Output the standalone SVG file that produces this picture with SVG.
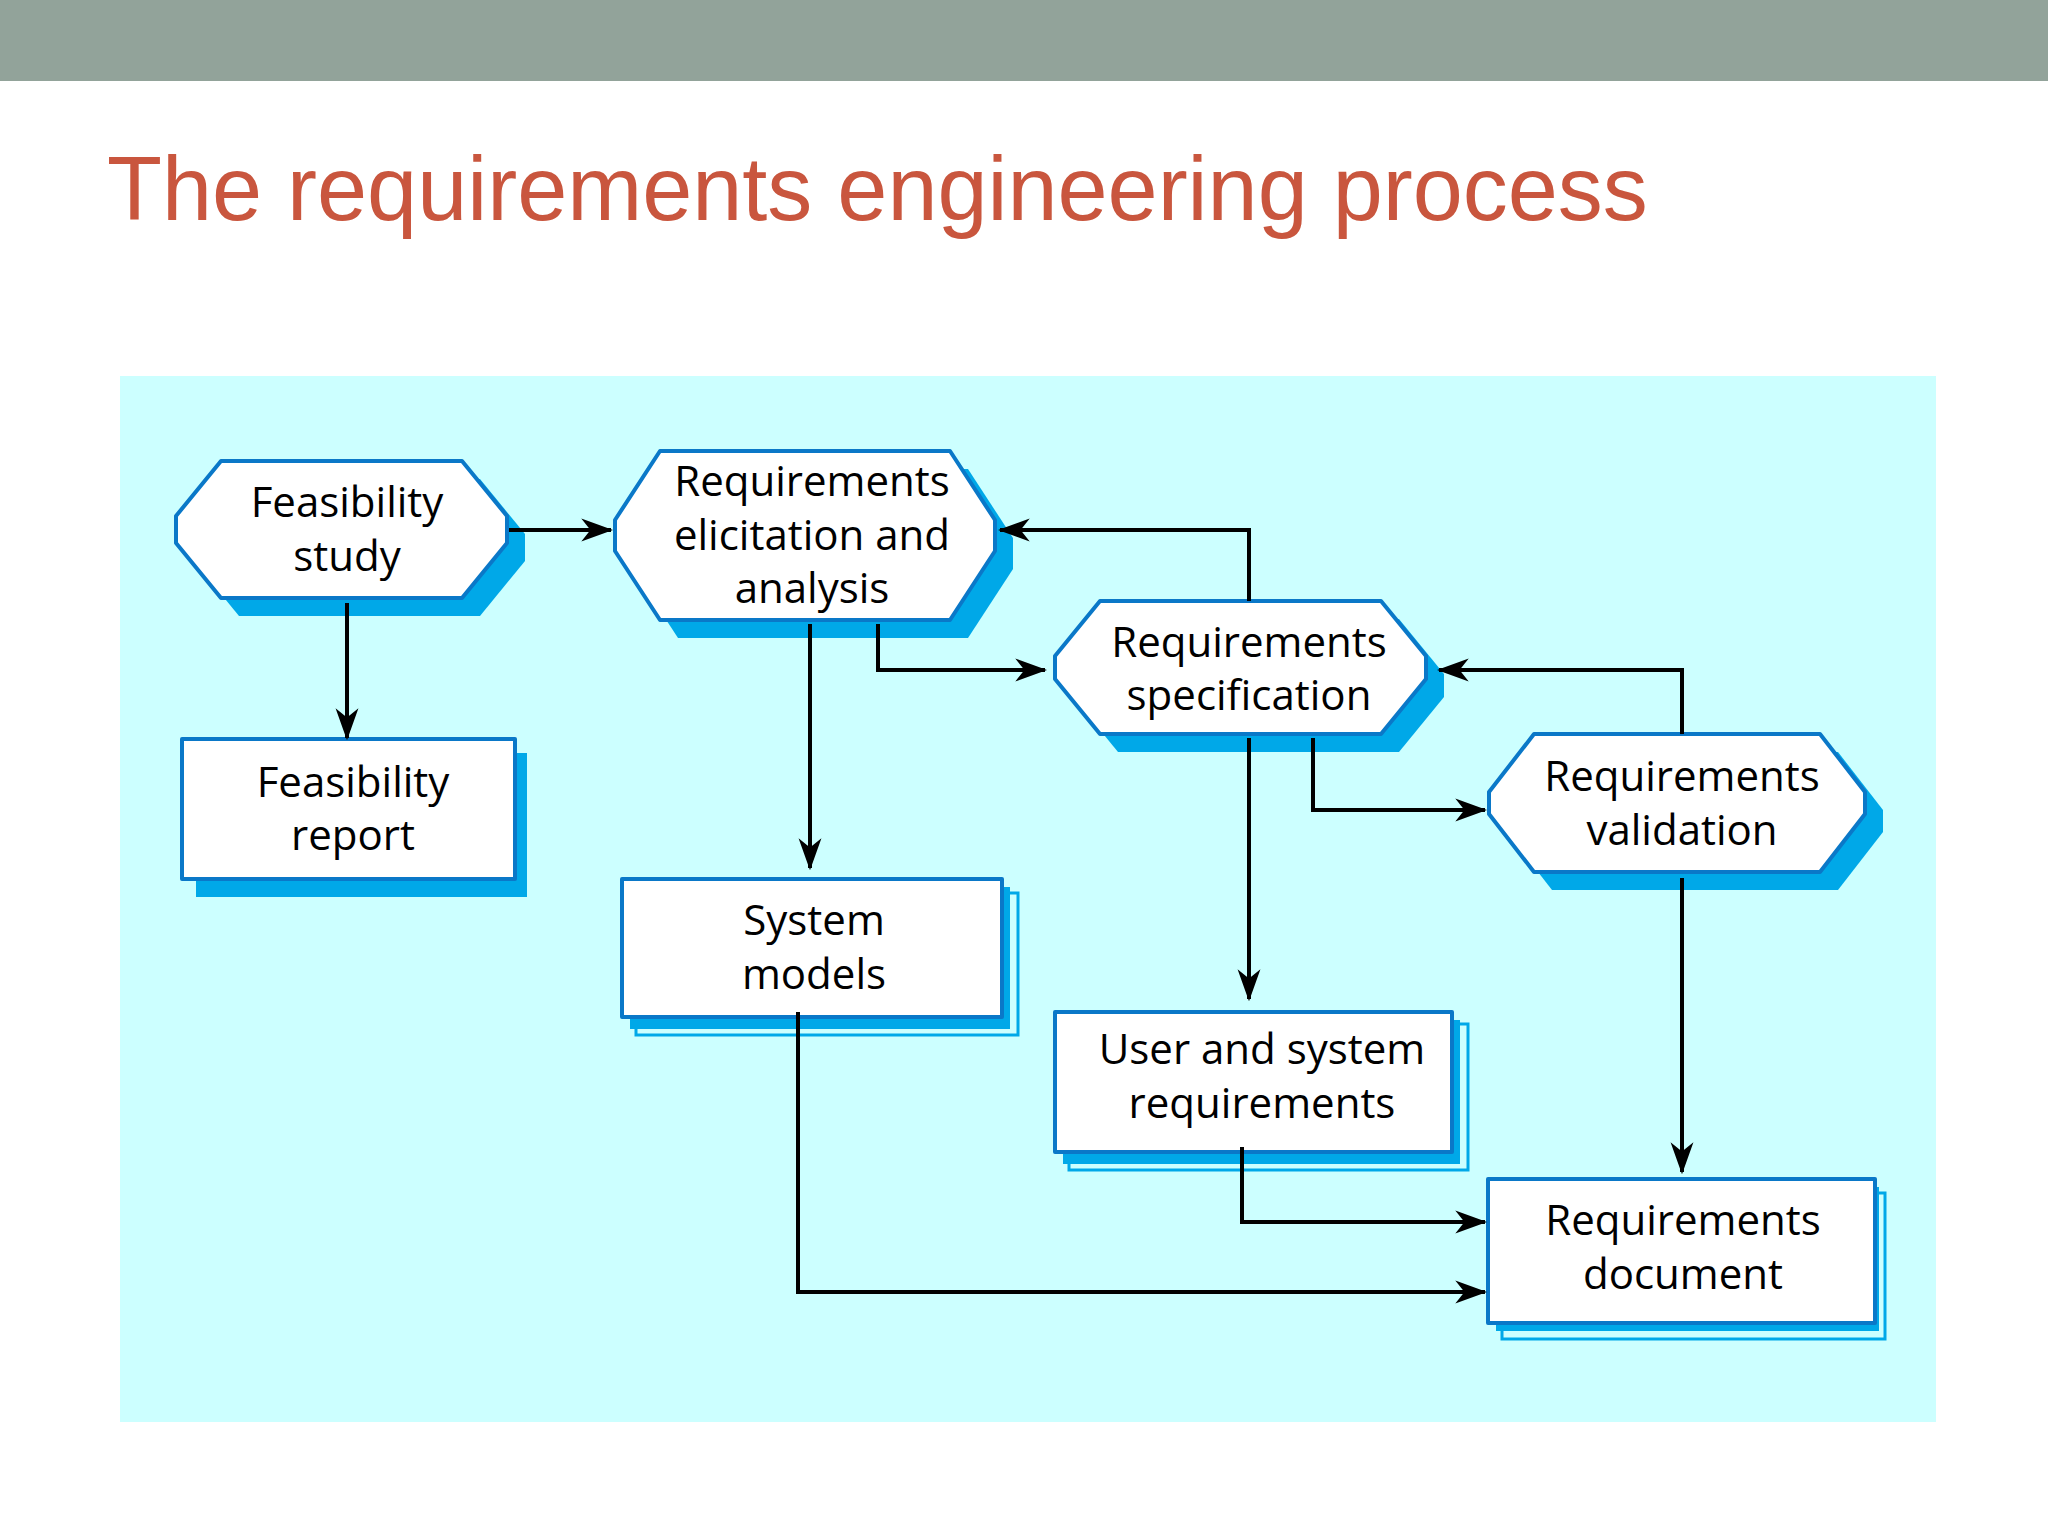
<svg xmlns="http://www.w3.org/2000/svg" width="2048" height="1537" viewBox="0 0 2048 1537">
<style>
.t{font-family:"Open Sans","DejaVu Sans",sans-serif;font-size:42px;fill:#000;text-anchor:middle;dominant-baseline:central}
.sh{fill:#00A8E8}
.nd{fill:#fff;stroke:#0A78C8;stroke-width:4;stroke-linejoin:round}
.ol{fill:none;stroke:#00A8E8;stroke-width:3}
.c{fill:none;stroke:#000;stroke-width:4;marker-end:url(#a)}
</style>
<defs>
<marker id="a" viewBox="0 0 14 10" refX="13" refY="5" markerWidth="8" markerHeight="6" markerUnits="strokeWidth" orient="auto">
<path d="M0,0 L14,5 L0,10 L4,5 Z" fill="#000"/>
</marker>
</defs>
<rect x="0" y="0" width="2048" height="81" fill="#92A39A"/>
<text x="107" y="220" font-family="Liberation Sans, Arial, sans-serif" font-size="90" fill="#C9563E">The requirements engineering process</text>
<rect x="120" y="376" width="1816" height="1046" fill="#CCFFFF"/>

<g id="feasibility-study">
<path class="sh" transform="translate(18,18)" d="M221,461 H462 L507,516 V543 L462,598 H221 L176,543 V516 Z"/>
<path class="nd" d="M221,461 H462 L507,516 V543 L462,598 H221 L176,543 V516 Z"/>
<text class="t" x="347" y="500">Feasibility</text><text class="t" x="347" y="554">study</text>
</g>
<g id="req-elicitation">
<path class="sh" transform="translate(18,18)" d="M660,451 H950 L995,520 V551 L950,620 H660 L615,551 V520 Z"/>
<path class="nd" d="M660,451 H950 L995,520 V551 L950,620 H660 L615,551 V520 Z"/>
<text class="t" x="812" y="479">Requirements</text><text class="t" x="812" y="533">elicitation and</text><text class="t" x="812" y="586">analysis</text>
</g>
<g id="req-specification">
<path class="sh" transform="translate(18,18)" d="M1100,601 H1381 L1426,656 V679 L1381,734 H1100 L1055,679 V656 Z"/>
<path class="nd" d="M1100,601 H1381 L1426,656 V679 L1381,734 H1100 L1055,679 V656 Z"/>
<text class="t" x="1249" y="640">Requirements</text><text class="t" x="1249" y="693">specification</text>
</g>
<g id="req-validation">
<path class="sh" transform="translate(18,18)" d="M1534,734 H1820 L1865,792 V814 L1820,872 H1534 L1489,814 V792 Z"/>
<path class="nd" d="M1534,734 H1820 L1865,792 V814 L1820,872 H1534 L1489,814 V792 Z"/>
<text class="t" x="1682" y="774">Requirements</text><text class="t" x="1682" y="828">validation</text>
</g>
<g id="feasibility-report">
<rect class="sh" x="196" y="753" width="331" height="144"/>
<rect class="nd" x="182" y="739" width="333" height="140"/>
<text class="t" x="353" y="780">Feasibility</text><text class="t" x="353" y="833">report</text>
</g>
<g id="system-models">
<rect class="ol" x="636" y="893" width="382" height="142"/>
<rect class="sh" x="630" y="887" width="380" height="142"/>
<rect class="nd" x="622" y="879" width="380" height="138"/>
<text class="t" x="814" y="918">System</text><text class="t" x="814" y="972">models</text>
</g>
<g id="user-system-req">
<rect class="ol" x="1069" y="1024" width="399" height="146"/>
<rect class="sh" x="1063" y="1020" width="397" height="144"/>
<rect class="nd" x="1055" y="1012" width="397" height="140"/>
<text class="t" x="1262" y="1047">User and system</text><text class="t" x="1262" y="1101">requirements</text>
</g>
<g id="req-document">
<rect class="ol" x="1502" y="1193" width="383" height="146"/>
<rect class="sh" x="1496" y="1187" width="383" height="144"/>
<rect class="nd" x="1488" y="1179" width="387" height="144"/>
<text class="t" x="1683" y="1218">Requirements</text><text class="t" x="1683" y="1272">document</text>
</g>

<g id="connectors">
<path class="c" d="M509,530 H611"/>
<path class="c" d="M347,603 V738"/>
<path class="c" d="M1249,601 V530 H1000"/>
<path class="c" d="M878,624 V670 H1045"/>
<path class="c" d="M810,624 V868"/>
<path class="c" d="M1682,734 V670 H1439"/>
<path class="c" d="M1313,738 V810 H1485"/>
<path class="c" d="M1249,738 V999"/>
<path class="c" d="M1682,878 V1172"/>
<path class="c" d="M1242,1147 V1222 H1485"/>
<path class="c" d="M798,1012 V1292 H1485"/>
</g>
</svg>
